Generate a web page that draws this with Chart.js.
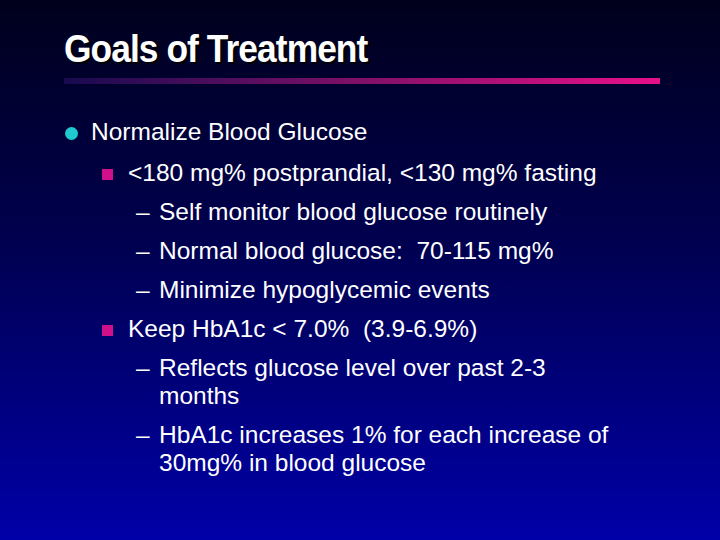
<!DOCTYPE html>
<html><head><meta charset="utf-8">
<script src="https://cdn.jsdelivr.net/npm/chart.js@4"></script>
<style>
html,body{margin:0;padding:0;}
body{width:720px;height:540px;overflow:hidden;position:relative;font-family:"Liberation Sans",Arial,sans-serif;color:#fff;
background:linear-gradient(to bottom,#00001c 0%,#000050 45%,#0000a8 100%);}
#title{position:absolute;left:64px;top:28px;font-family:"Liberation Sans Narrow","Liberation Sans",sans-serif;font-weight:bold;font-size:38px;letter-spacing:-1px;text-shadow:2px 2px 2px #000;transform:scaleX(0.93);transform-origin:left;}
#rule{position:absolute;left:64px;top:76px;width:596px;height:10px;}
.t{position:absolute;white-space:pre;}
.l1{font-size:24.5px;left:91px;}
.l2{font-size:24.5px;left:128px;}
.l3{font-size:24.5px;left:159px;}
.dot{position:absolute;left:65px;width:13px;height:13px;border-radius:7px;background:#20c8d0;}
.sq{position:absolute;left:102px;width:11px;height:11px;background:#d0108a;}
.dash{position:absolute;left:136px;font-size:24.5px;}
</style></head><body>
<div id="title">Goals of Treatment</div>
<canvas id="rule" width="596" height="10"></canvas>
<div id="txt"></div>
<script>
// slide lines: [level, text, top]
const lines = [
  [1, "Normalize Blood Glucose", 118],
  [2, "<180 mg% postprandial, <130 mg% fasting", 159],
  [3, "Self monitor blood glucose routinely", 198],
  [3, "Normal blood glucose:  70-115 mg%", 237],
  [3, "Minimize hypoglycemic events", 276],
  [2, "Keep HbA1c < 7.0%  (3.9-6.9%)", 315],
  [3, "Reflects glucose level over past 2-3", 354],
  [0, "months", 382],
  [3, "HbA1c increases 1% for each increase of", 421],
  [0, "30mg% in blood glucose", 449]
];
const ruleValues = [1];

const box = document.getElementById("txt");
lines.forEach(([lvl, text, top]) => {
  const d = document.createElement("div");
  d.className = "t " + (lvl === 1 ? "l1" : lvl === 2 ? "l2" : "l3");
  d.style.top = top + "px";
  d.textContent = text;
  box.appendChild(d);
  if (lvl === 1) { const b = document.createElement("div"); b.className = "dot"; b.style.top = (top + 9) + "px"; box.appendChild(b); }
  if (lvl === 2) { const b = document.createElement("div"); b.className = "sq"; b.style.top = (top + 10) + "px"; box.appendChild(b); }
  if (lvl === 3) { const b = document.createElement("div"); b.className = "dash"; b.style.top = top + "px"; b.textContent = "–"; box.appendChild(b); }
});

const ctx = document.getElementById("rule").getContext("2d");
const grad = ctx.createLinearGradient(0, 0, 596, 0);
grad.addColorStop(0, "#180a50");
grad.addColorStop(0.5, "#801068");
grad.addColorStop(1, "#e8108a");
new Chart(ctx, {
  type: "bar",
  data: { labels: [""], datasets: [{ data: ruleValues, backgroundColor: grad, barPercentage: 1, categoryPercentage: 0.6 }] },
  options: {
    indexAxis: "y", responsive: false, animation: false,
    layout: { padding: 0 },
    plugins: { legend: { display: false }, tooltip: { enabled: false } },
    scales: { x: { display: false, min: 0, max: 1 }, y: { display: false } }
  }
});
</script>
</body></html>
